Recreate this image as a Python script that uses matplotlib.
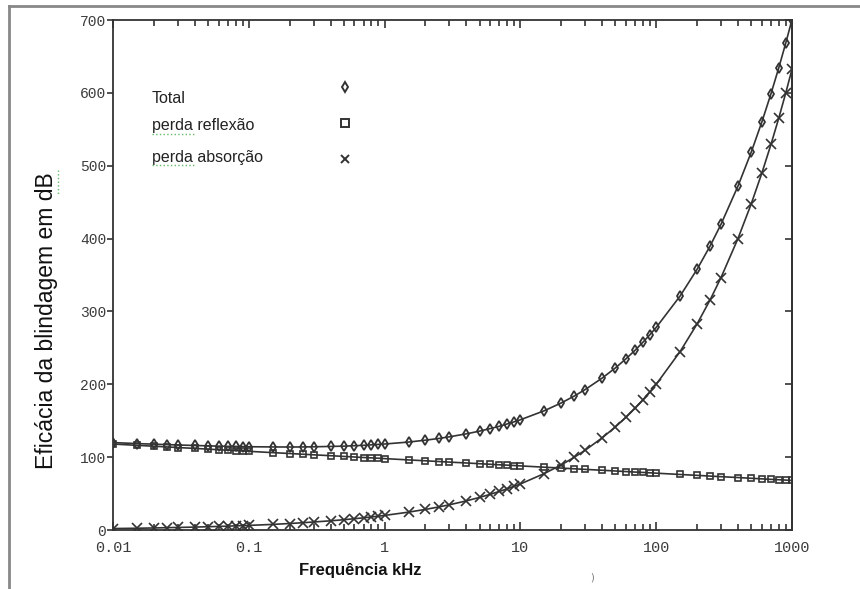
import matplotlib
matplotlib.use("Agg")
import matplotlib.pyplot as plt
from matplotlib.lines import Line2D
from matplotlib.ticker import LogLocator, NullFormatter

# frequencies of the plotted points (kHz)
freq_khz = [0.01, 0.015, 0.02, 0.025, 0.03, 0.04, 0.05, 0.06, 0.07, 0.08, 0.09,
            0.1, 0.15, 0.2, 0.25, 0.3, 0.4, 0.5, 0.6, 0.7, 0.8, 0.9,
            1, 1.5, 2, 2.5, 3, 4, 5, 6, 7, 8, 9,
            10, 15, 20, 25, 30, 40, 50, 60, 70, 80, 90,
            100, 150, 200, 250, 300, 400, 500, 600, 700, 800, 900, 1000]

total_db = [120.0, 118.6, 117.8, 117.2, 116.7, 116.0, 115.5, 115.1, 114.8, 114.7, 114.5,
            114.3, 114.0, 113.9, 114.0, 114.2, 114.7, 115.1, 115.7, 116.2, 116.9, 117.5,
            118.0, 120.7, 123.3, 125.6, 127.9, 132.0, 135.7, 139.2, 142.4, 145.6, 148.5,
            151.3, 163.7, 174.4, 184.0, 192.8, 208.5, 222.4, 235.1, 246.8, 257.9, 268.2,
            278.0, 321.2, 357.8, 390.2, 419.6, 472.0, 518.2, 560.1, 598.7, 634.7, 668.5, 700.5]

reflexao_db = [118.0, 116.2, 115.0, 114.0, 113.2, 112.0, 111.0, 110.2, 109.5, 109.0, 108.5,
               108.0, 106.2, 105.0, 104.0, 103.2, 102.0, 101.0, 100.2, 99.5, 99.0, 98.5,
               98.0, 96.2, 95.0, 94.0, 93.2, 92.0, 91.0, 90.2, 89.5, 89.0, 88.5,
               88.0, 86.2, 85.0, 84.0, 83.2, 82.0, 81.0, 80.2, 79.5, 79.0, 78.5,
               78.0, 76.2, 75.0, 74.0, 73.2, 72.0, 71.0, 70.2, 69.5, 69.0, 68.5, 68.0]

absorcao_db = [2.0, 2.4, 2.8, 3.2, 3.5, 4.0, 4.5, 4.9, 5.3, 5.7, 6.0,
               6.3, 7.7, 8.9, 10.0, 11.0, 12.6, 14.1, 15.5, 16.7, 17.9, 19.0,
               20.0, 24.5, 28.3, 31.6, 34.6, 40.0, 44.7, 49.0, 52.9, 56.6, 60.0,
               63.2, 77.5, 89.4, 100.0, 109.5, 126.5, 141.4, 154.9, 167.3, 178.9, 189.7,
               200.0, 244.9, 282.8, 316.2, 346.4, 400.0, 447.2, 489.9, 529.2, 565.7, 600.0, 632.5]

series_labels = ["Total", "perda reflexão", "perda absorção"]
x_ticks = [0.01, 0.1, 1, 10, 100, 1000]
x_ticklabels = ["0.01", "0.1", "1", "10", "100", "1000"]
y_ticks = [0, 100, 200, 300, 400, 500, 600, 700]

ink = "#333333"
tick_font = "Liberation Mono"
tick_col = "#3c3c3c"

fig = plt.figure(figsize=(8.6, 5.89), dpi=100)
ax = fig.add_axes([113 / 860, 59 / 589, 679 / 860, 510 / 589])

ax.plot(freq_khz, total_db, color=ink, lw=1.2, marker="d", ms=5.5,
        mfc="none", mec=ink, mew=1.3)
ax.plot(freq_khz, reflexao_db, color=ink, lw=1.2, marker="s", ms=5,
        mfc="none", mec=ink, mew=1.2)
ax.plot(freq_khz, absorcao_db, color=ink, lw=1.2, marker="x", ms=6.5,
        mec=ink, mew=1.2)

ax.set_xscale("log")
ax.set_xlim(0.01, 1000)
ax.set_ylim(0, 700)

ax.set_xticks(x_ticks)
ax.set_xticklabels(x_ticklabels, fontfamily=tick_font, fontsize=11, color=tick_col)
ax.xaxis.set_minor_locator(LogLocator(base=10, subs=range(2, 10)))
ax.xaxis.set_minor_formatter(NullFormatter())
ax.tick_params(axis="x", which="both", direction="in", top=True, color=ink, width=1.2)
ax.tick_params(axis="x", which="major", length=6, pad=8)
ax.tick_params(axis="x", which="minor", length=4)

ax.set_yticks(y_ticks)
ax.set_yticklabels([str(v) for v in y_ticks], fontfamily=tick_font, fontsize=10.5,
                   color=tick_col)
ax.tick_params(axis="y", direction="out", length=4, width=1.2, color=ink, pad=1)

sec = ax.secondary_yaxis("right")
sec.set_yticks(y_ticks)
sec.tick_params(direction="in", length=5, width=1.2, color=ink, labelright=False)
sec.spines["right"].set_color(ink)
sec.spines["right"].set_linewidth(1.3)

for s in ax.spines.values():
    s.set_color(ink)
    s.set_linewidth(1.3)

# legend drawn as in the original: label on the left, symbol far to the right
leg_y_text = [0.847, 0.794, 0.731]
leg_y_mark = [0.869, 0.798, 0.727]
leg_markers = ["d", "s", "x"]
for lab, yt, ym, mk in zip(series_labels, leg_y_text, leg_y_mark, leg_markers):
    ax.text(0.057, yt, lab, transform=ax.transAxes, fontsize=11.5,
            fontfamily="Liberation Sans", color="#222222", va="center")
    ax.plot([0.342], [ym], transform=ax.transAxes, marker=mk, ms=5.5,
            mfc="none", mec=ink, mew=1.4, ls="none")

fig.text(47 / 860, 1 - 321 / 589, "Eficácia da blindagem em dB", rotation=90,
         fontsize=16.5, fontfamily="Liberation Sans", color="#111111",
         ha="center", va="center")
fig.text(360 / 860, 1 - 570 / 589, "Frequência kHz", fontsize=12,
         fontweight="bold", fontfamily="Liberation Sans", color="#111111",
         ha="center", va="center")
fig.text(592 / 860, 1 - 578 / 589, ")", fontsize=7, color="#777777",
         ha="center", va="center")

# spell-check squiggles under "perda" and "dB"
for yy in [134, 165]:
    fig.add_artist(Line2D([152 / 860, 196 / 860], [1 - yy / 589, 1 - yy / 589],
                          color="#66bb66", lw=1, ls=":"))
fig.add_artist(Line2D([58 / 860, 58 / 860], [1 - 170 / 589, 1 - 195 / 589],
                      color="#66bb66", lw=1, ls=":"))

# outer frame of the scanned image
fig.add_artist(Line2D([9 / 860, 9 / 860], [0, 1 - 6 / 589], color="#888888", lw=2))
fig.add_artist(Line2D([9 / 860, 1], [1 - 6 / 589, 1 - 6 / 589], color="#888888", lw=2))

fig.savefig("out.png", dpi=100)
